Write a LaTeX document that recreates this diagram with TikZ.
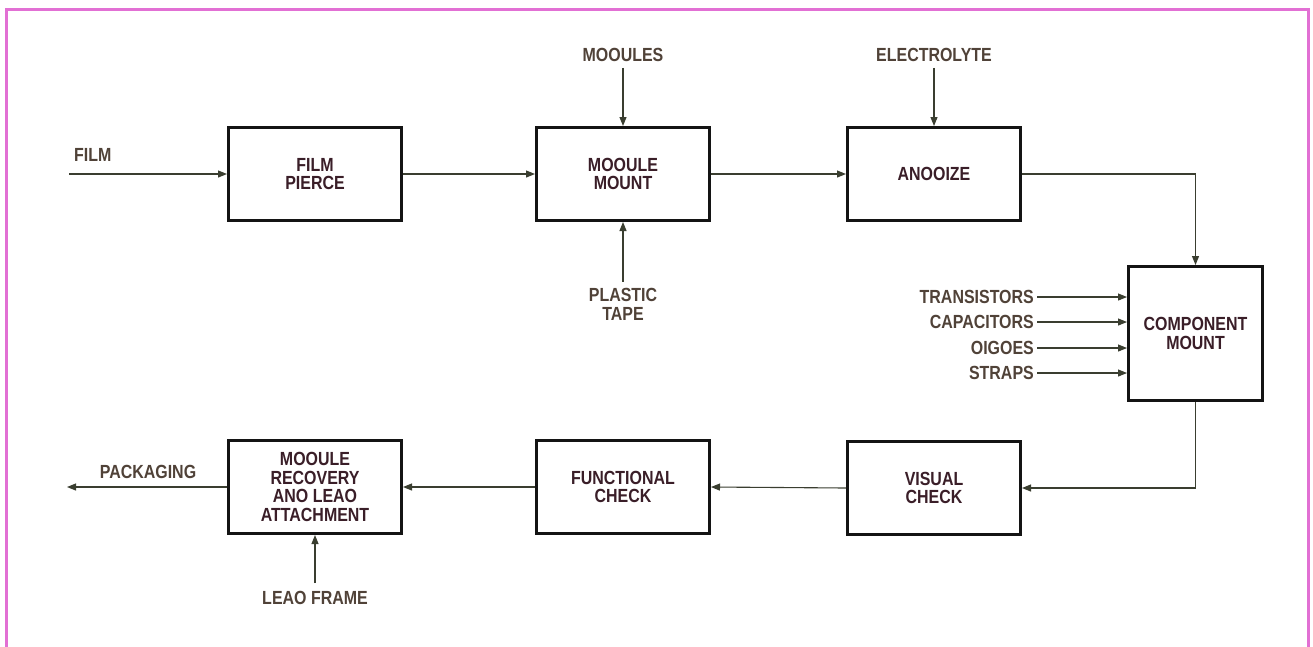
\documentclass[tikz,border=0pt]{standalone}
\usepackage{fontspec}
\setmainfont{Liberation Sans}[FakeStretch=0.84]
\usetikzlibrary{arrows.meta}
\definecolor{pinkb}{RGB}{226,112,212}
\definecolor{txt}{RGB}{58,30,40}
\definecolor{ltxt}{RGB}{80,66,56}
\definecolor{ln}{RGB}{58,62,48}
\begin{document}
\begin{tikzpicture}[x=1pt,y=-1pt,
  box/.style={draw=black!92, line width=3pt, minimum width=173pt, minimum height=93pt,
    align=center, font=\fontsize{19}{18.5}\selectfont\bfseries, text=txt, inner sep=0pt},
  lab/.style={font=\fontsize{19}{19}\selectfont\bfseries, text=ltxt, align=center, inner sep=4pt},
  arr/.style={draw=ln, line width=1.1pt, -{Triangle[length=9pt,width=7pt]}}]
\useasboundingbox[fill=white] (0,0) rectangle (1313,646);
% pink frame
\draw[pinkb, line width=3pt] (6,648) -- (6,9) -- (1308,9) -- (1308,648);
% boxes
\node[box] (fp) at (315,174) {FILM\\PIERCE};
\node[box] (mm) at (623,174) {MOOULE\\MOUNT};
\node[box] (an) at (934,174) {ANOOIZE};
\node[box, minimum width=134pt, minimum height=134pt] (cm) at (1195.5,333.5) {COMPONENT\\MOUNT};
\node[box] (vc) at (934,488) {VISUAL\\CHECK};
\node[box] (fc) at (623,487) {FUNCTIONAL\\CHECK};
\node[box] (mr) at (315,487) {MOOULE\\RECOVERY\\ANO LEAO\\ATTACHMENT};
% labels
\coordinate (filmin) at (69,174);
\node[lab, anchor=south west, inner sep=2pt] (film) at (72,164) {FILM};
\node[lab, inner sep=6pt] (mo) at (623,55) {MOOULES};
\node[lab, inner sep=6pt] (pt) at (623,304) {PLASTIC\\TAPE};
\node[lab, inner sep=6pt] (el) at (934,55) {ELECTROLYTE};
\node[lab, anchor=east, inner sep=3pt] (tr) at (1037,297) {TRANSISTORS};
\node[lab, anchor=east, inner sep=3pt] (ca) at (1037,322) {CAPACITORS};
\node[lab, anchor=east, inner sep=3pt] (di) at (1037,348) {OIGOES};
\node[lab, anchor=east, inner sep=3pt] (st) at (1037,373) {STRAPS};
\node[lab, inner sep=2pt] (pk) at (148,472) {PACKAGING};
\coordinate (pkout) at (67,487);
\node[lab, inner sep=8pt] (lf) at (315,598) {LEAO FRAME};
% connectors
\draw[arr] (filmin) -- (fp.west);
\draw[arr] (fp.east) -- (mm.west);
\draw[arr] (mo.south) -- (mm.north);
\draw[arr] (pt.north) -- (mm.south);
\draw[arr] (mm.east) -- (an.west);
\draw[arr] (el.south) -- (an.north);
\draw[arr] (an.east) -| (cm.north);
\draw[arr] (tr.east) -- (tr.east -| cm.west);
\draw[arr] (ca.east) -- (ca.east -| cm.west);
\draw[arr] (di.east) -- (di.east -| cm.west);
\draw[arr] (st.east) -- (st.east -| cm.west);
\draw[arr] (cm.south) |- (vc.east);
\draw[arr] (vc.west) -- (fc.east);
\draw[arr] (fc.west) -- (mr.east);
\draw[arr] (mr.west) -- (pkout);
\draw[arr] (lf.north) -- (mr.south);
\end{tikzpicture}
\end{document}
